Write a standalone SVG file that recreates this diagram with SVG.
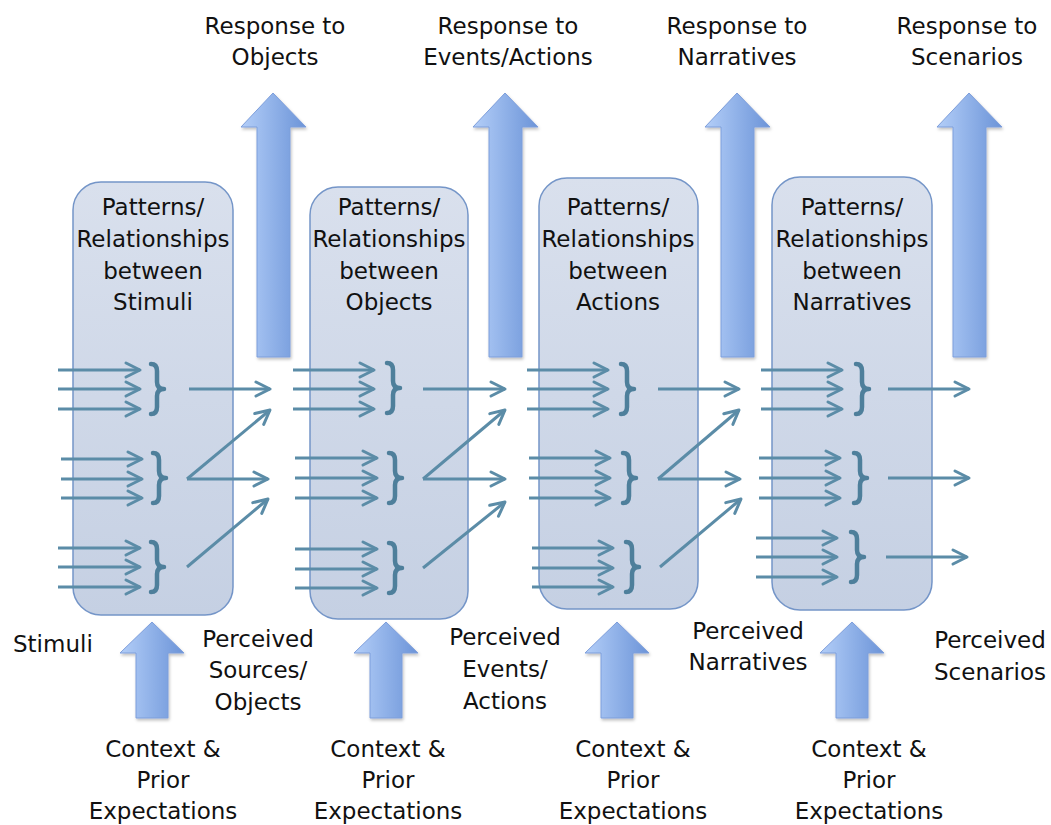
<svg xmlns="http://www.w3.org/2000/svg" width="1051" height="825" viewBox="0 0 1051 825">
<defs>
<linearGradient id="boxg" x1="0" y1="0" x2="0" y2="1">
<stop offset="0" stop-color="#d9e0ed"/>
<stop offset="1" stop-color="#c5d0e3"/>
</linearGradient>
<linearGradient id="arrg" x1="0" y1="0" x2="1" y2="0">
<stop offset="0" stop-color="#b3cef8"/>
<stop offset="1" stop-color="#6c94d8"/>
</linearGradient>
<filter id="sh" x="-20%" y="-10%" width="140%" height="130%">
<feDropShadow dx="1" dy="2" stdDeviation="1.5" flood-color="#000" flood-opacity="0.25"/>
</filter>
<marker id="ah" markerUnits="userSpaceOnUse" markerWidth="20" markerHeight="20" viewBox="0 0 20 20" refX="17" refY="10" orient="auto">
<path d="M3,3 L17,10 L3,17" fill="none" stroke="#5b8ca7" stroke-width="3" stroke-linecap="round" stroke-linejoin="round"/>
</marker>
</defs>
<style>
.box{fill:url(#boxg);stroke:#7495c8;stroke-width:1.5}
.big{fill:url(#arrg);stroke:#7d9edb;stroke-width:1;filter:url(#sh)}
.t{font-family:"DejaVu Sans","Liberation Sans",sans-serif;font-size:23px;fill:#111;text-anchor:middle}
.tl{font-family:"DejaVu Sans","Liberation Sans",sans-serif;font-size:23px;fill:#111}
.a{stroke:#5b8ca7;stroke-width:3;fill:none;marker-end:url(#ah)}
.br{stroke:#4e7f9b;stroke-width:4.5;fill:none;stroke-linecap:round;stroke-linejoin:round}
</style>
<rect width="1051" height="825" fill="#fff"/>

<g id="box1">
<rect class="box" x="73" y="182" width="160" height="433" rx="28"/>
<text class="t" x="153" y="215">Patterns/</text>
<text class="t" x="153" y="247">Relationships</text>
<text class="t" x="153" y="279">between</text>
<text class="t" x="153" y="310">Stimuli</text>
</g>
<g id="box2">
<rect class="box" x="310" y="187" width="158" height="432" rx="28"/>
<text class="t" x="389" y="215">Patterns/</text>
<text class="t" x="389" y="247">Relationships</text>
<text class="t" x="389" y="279">between</text>
<text class="t" x="389" y="310">Objects</text>
</g>
<g id="box3">
<rect class="box" x="539" y="178" width="159" height="431" rx="28"/>
<text class="t" x="618" y="215">Patterns/</text>
<text class="t" x="618" y="247">Relationships</text>
<text class="t" x="618" y="279">between</text>
<text class="t" x="618" y="310">Actions</text>
</g>
<g id="box4">
<rect class="box" x="772" y="177" width="160" height="433" rx="28"/>
<text class="t" x="852" y="215">Patterns/</text>
<text class="t" x="852" y="247">Relationships</text>
<text class="t" x="852" y="279">between</text>
<text class="t" x="852" y="310">Narratives</text>
</g>

<g id="up-arrows">
<polygon class="big" points="273,93 306,127 290,127 290,357 257,357 257,127 241,127"/>
<polygon class="big" points="505,93 538,127 522,127 522,357 489,357 489,127 473,127"/>
<polygon class="big" points="737,93 770,127 754,127 754,357 721,357 721,127 705,127"/>
<polygon class="big" points="969,93 1002,127 986,127 986,357 953,357 953,127 937,127"/>
</g>
<g id="context-arrows">
<polygon class="big" points="152,622 184,653 168,653 168,718 136,718 136,653 120,653"/>
<polygon class="big" points="386,622 418,653 402,653 402,718 370,718 370,653 354,653"/>
<polygon class="big" points="617,622 649,653 633,653 633,718 601,718 601,653 585,653"/>
<polygon class="big" points="852,622 884,653 868,653 868,718 836,718 836,653 820,653"/>
</g>

<g id="connectors">
<!-- box1 inputs -->
<line class="a" x1="58" y1="370" x2="140" y2="370"/>
<line class="a" x1="58" y1="389" x2="140" y2="389"/>
<line class="a" x1="58" y1="409" x2="140" y2="409"/>
<line class="a" x1="61" y1="459" x2="142" y2="459"/>
<line class="a" x1="61" y1="479" x2="142" y2="479"/>
<line class="a" x1="61" y1="498" x2="142" y2="498"/>
<line class="a" x1="58" y1="548" x2="140" y2="548"/>
<line class="a" x1="58" y1="567" x2="140" y2="567"/>
<line class="a" x1="58" y1="587" x2="140" y2="587"/>
<!-- box1 outputs -->
<line class="a" x1="189" y1="389" x2="270" y2="389"/>
<line class="a" x1="187" y1="479" x2="268" y2="479"/>
<line class="a" x1="187" y1="479" x2="270" y2="410"/>
<line class="a" x1="187" y1="567" x2="268" y2="499"/>
<!-- box2 inputs -->
<line class="a" x1="293" y1="370" x2="374" y2="370"/>
<line class="a" x1="293" y1="389" x2="374" y2="389"/>
<line class="a" x1="293" y1="409" x2="374" y2="409"/>
<line class="a" x1="295" y1="458" x2="377" y2="458"/>
<line class="a" x1="295" y1="478" x2="377" y2="478"/>
<line class="a" x1="295" y1="498" x2="377" y2="498"/>
<line class="a" x1="295" y1="549" x2="377" y2="549"/>
<line class="a" x1="295" y1="569" x2="377" y2="569"/>
<line class="a" x1="295" y1="588" x2="377" y2="588"/>
<!-- box2 outputs -->
<line class="a" x1="423" y1="389" x2="505" y2="389"/>
<line class="a" x1="423" y1="479" x2="505" y2="479"/>
<line class="a" x1="423" y1="479" x2="505" y2="410"/>
<line class="a" x1="423" y1="568" x2="505" y2="502"/>
<!-- box3 inputs -->
<line class="a" x1="527" y1="370" x2="608" y2="370"/>
<line class="a" x1="527" y1="389" x2="608" y2="389"/>
<line class="a" x1="527" y1="409" x2="608" y2="409"/>
<line class="a" x1="529" y1="458" x2="610" y2="458"/>
<line class="a" x1="529" y1="478" x2="610" y2="478"/>
<line class="a" x1="529" y1="498" x2="610" y2="498"/>
<line class="a" x1="532" y1="548" x2="613" y2="548"/>
<line class="a" x1="532" y1="568" x2="613" y2="568"/>
<line class="a" x1="532" y1="587" x2="613" y2="587"/>
<!-- box3 outputs -->
<line class="a" x1="658" y1="389" x2="739" y2="389"/>
<line class="a" x1="658" y1="479" x2="740" y2="479"/>
<line class="a" x1="658" y1="479" x2="739" y2="410"/>
<line class="a" x1="660" y1="567" x2="741" y2="499"/>
<!-- box4 inputs -->
<line class="a" x1="761" y1="370" x2="842" y2="370"/>
<line class="a" x1="761" y1="389" x2="842" y2="389"/>
<line class="a" x1="761" y1="409" x2="842" y2="409"/>
<line class="a" x1="759" y1="458" x2="840" y2="458"/>
<line class="a" x1="759" y1="478" x2="840" y2="478"/>
<line class="a" x1="759" y1="498" x2="840" y2="498"/>
<line class="a" x1="756" y1="538" x2="837" y2="538"/>
<line class="a" x1="756" y1="557" x2="837" y2="557"/>
<line class="a" x1="756" y1="577" x2="837" y2="577"/>
<!-- box4 outputs -->
<line class="a" x1="888" y1="389" x2="969" y2="389"/>
<line class="a" x1="888" y1="478" x2="969" y2="478"/>
<line class="a" x1="886" y1="557" x2="967" y2="557"/>
</g>

<g id="braces">
<path class="br" transform="translate(151,389)" d="M0,-25 Q6,-25 6,-18 L6,-7 Q6,0 13,0 Q6,0 6,7 L6,18 Q6,25 0,25"/>
<path class="br" transform="translate(153,478)" d="M0,-25 Q6,-25 6,-18 L6,-7 Q6,0 13,0 Q6,0 6,7 L6,18 Q6,25 0,25"/>
<path class="br" transform="translate(151,567)" d="M0,-25 Q6,-25 6,-18 L6,-7 Q6,0 13,0 Q6,0 6,7 L6,18 Q6,25 0,25"/>
<path class="br" transform="translate(387,388)" d="M0,-25 Q6,-25 6,-18 L6,-7 Q6,0 13,0 Q6,0 6,7 L6,18 Q6,25 0,25"/>
<path class="br" transform="translate(389,478)" d="M0,-25 Q6,-25 6,-18 L6,-7 Q6,0 13,0 Q6,0 6,7 L6,18 Q6,25 0,25"/>
<path class="br" transform="translate(389,568)" d="M0,-25 Q6,-25 6,-18 L6,-7 Q6,0 13,0 Q6,0 6,7 L6,18 Q6,25 0,25"/>
<path class="br" transform="translate(621,389)" d="M0,-25 Q6,-25 6,-18 L6,-7 Q6,0 13,0 Q6,0 6,7 L6,18 Q6,25 0,25"/>
<path class="br" transform="translate(623,478)" d="M0,-25 Q6,-25 6,-18 L6,-7 Q6,0 13,0 Q6,0 6,7 L6,18 Q6,25 0,25"/>
<path class="br" transform="translate(626,567)" d="M0,-25 Q6,-25 6,-18 L6,-7 Q6,0 13,0 Q6,0 6,7 L6,18 Q6,25 0,25"/>
<path class="br" transform="translate(856,389)" d="M0,-25 Q6,-25 6,-18 L6,-7 Q6,0 13,0 Q6,0 6,7 L6,18 Q6,25 0,25"/>
<path class="br" transform="translate(854,478)" d="M0,-25 Q6,-25 6,-18 L6,-7 Q6,0 13,0 Q6,0 6,7 L6,18 Q6,25 0,25"/>
<path class="br" transform="translate(851,557)" d="M0,-25 Q6,-25 6,-18 L6,-7 Q6,0 13,0 Q6,0 6,7 L6,18 Q6,25 0,25"/>
</g>

<g id="response-labels">
<text class="t" x="275" y="34">Response to</text>
<text class="t" x="275" y="65">Objects</text>
<text class="t" x="508" y="34">Response to</text>
<text class="t" x="508" y="65">Events/Actions</text>
<text class="t" x="737" y="34">Response to</text>
<text class="t" x="737" y="65">Narratives</text>
<text class="t" x="967" y="34">Response to</text>
<text class="t" x="967" y="65">Scenarios</text>
</g>

<g id="perceived-labels">
<text class="tl" x="13" y="652">Stimuli</text>
<text class="t" x="258" y="647">Perceived</text>
<text class="t" x="258" y="678">Sources/</text>
<text class="t" x="258" y="710">Objects</text>
<text class="t" x="505" y="645">Perceived</text>
<text class="t" x="505" y="677">Events/</text>
<text class="t" x="505" y="709">Actions</text>
<text class="t" x="748" y="639">Perceived</text>
<text class="t" x="748" y="670">Narratives</text>
<text class="t" x="990" y="648">Perceived</text>
<text class="t" x="990" y="680">Scenarios</text>
</g>

<g id="context-labels">
<text class="t" x="163" y="757">Context &amp;</text>
<text class="t" x="163" y="788">Prior</text>
<text class="t" x="163" y="819">Expectations</text>
<text class="t" x="388" y="757">Context &amp;</text>
<text class="t" x="388" y="788">Prior</text>
<text class="t" x="388" y="819">Expectations</text>
<text class="t" x="633" y="757">Context &amp;</text>
<text class="t" x="633" y="788">Prior</text>
<text class="t" x="633" y="819">Expectations</text>
<text class="t" x="869" y="757">Context &amp;</text>
<text class="t" x="869" y="788">Prior</text>
<text class="t" x="869" y="819">Expectations</text>
</g>
</svg>
